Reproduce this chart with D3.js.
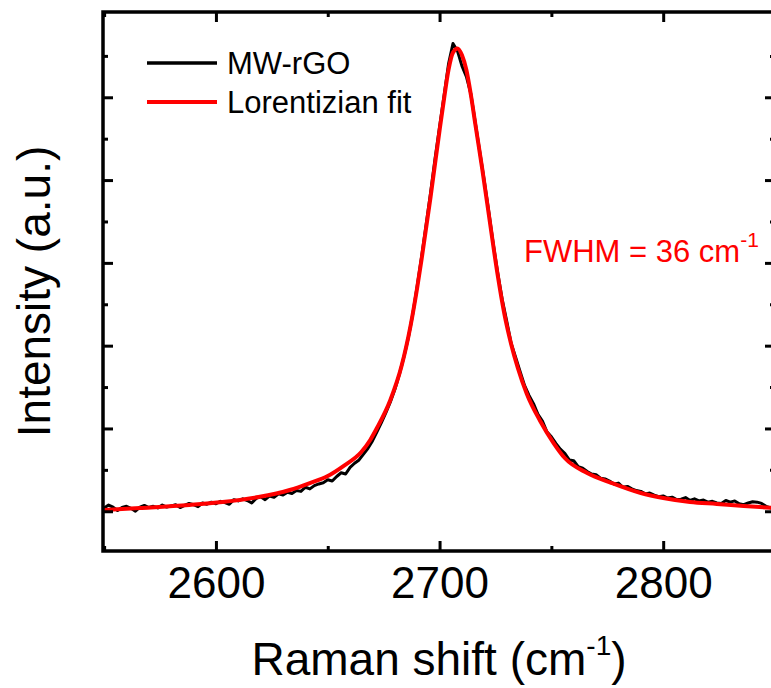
<!DOCTYPE html>
<html>
<head>
<meta charset="utf-8">
<script src="https://cdn.jsdelivr.net/npm/d3@7/dist/d3.min.js"></script>
<style>
  html, body { margin: 0; padding: 0; background: #fff; }
  svg { display: block; }
  text { font-family: "Liberation Sans", Arial, sans-serif; }
</style>
</head>
<body>
<svg id="chart" width="771" height="688"></svg>
<script>
// ---- data ----
const shiftMW = [2550,2552,2554,2556,2558,2560,2562,2564,2566,2568,2570,2572,2574,2576,2578,2580,2582,2584,2586,2588,2590,2592,2594,2596,2598,2600,2602,2604,2606,2608,2610,2612,2614,2616,2618,2620,2622,2624,2626,2628,2630,2632,2634,2636,2638,2640,2642,2644,2646,2648,2650,2652,2654,2656,2658,2660,2662,2664,2666,2668,2670,2672,2674,2676,2678,2680,2682,2684,2686,2688,2690,2692,2694,2696,2698,2700,2702,2704,2706,2708,2710,2712,2714,2716,2718,2720,2722,2724,2726,2728,2730,2732,2734,2736,2738,2740,2742,2744,2746,2748,2750,2752,2754,2756,2758,2760,2762,2764,2766,2768,2770,2772,2774,2776,2778,2780,2782,2784,2786,2788,2790,2792,2794,2796,2798,2800,2802,2804,2806,2808,2810,2812,2814,2816,2818,2820,2822,2824,2826,2828,2830,2832,2834,2836,2838,2840,2842,2844,2846,2848,2850];
const intensityMW = [1040,1075,1050,1010,1045,1060,1035,1000,1050,1070,1045,1060,1040,1075,1050,1065,1080,1045,1070,1095,1080,1055,1100,1085,1110,1090,1120,1105,1085,1140,1125,1150,1130,1100,1155,1175,1140,1185,1170,1210,1195,1230,1215,1250,1240,1290,1270,1310,1330,1345,1380,1365,1420,1465,1450,1530,1580,1620,1690,1760,1850,1960,2070,2190,2320,2470,2650,2860,3090,3380,3720,4080,4460,4850,5260,5640,6020,6400,6650,6560,6380,6250,6040,5690,5340,4990,4620,4230,3880,3560,3300,3030,2860,2690,2520,2400,2300,2170,2090,1960,1900,1820,1750,1700,1620,1610,1540,1520,1480,1450,1440,1400,1390,1365,1330,1340,1290,1300,1270,1250,1240,1210,1220,1195,1175,1185,1160,1170,1140,1145,1165,1130,1150,1125,1135,1110,1120,1100,1095,1130,1110,1125,1090,1080,1100,1115,1110,1095,1060,1040,1030];

const shiftFit = [2550,2566,2588,2603,2619,2633,2642,2650,2657,2665,2669,2672,2678,2683,2687,2690,2692,2696,2700,2702,2704,2706,2708,2710,2712,2714,2716,2719,2723,2726,2729,2732,2735,2739,2745,2751,2756,2766,2777,2790,2800,2812,2824,2836,2850];
const intensityFit = [1015,1039,1076,1112,1172,1257,1341,1426,1546,1715,1861,2005,2344,2754,3237,3700,4050,4800,5600,5980,6330,6540,6590,6510,6330,6030,5675,5150,4400,3850,3380,3020,2730,2420,2090,1824,1643,1462,1341,1220,1160,1112,1088,1063,1039];

const xMajorTicks = [2600, 2700, 2800];
const xMinorTicks = [2550, 2650, 2750, 2850];
const yMajorTicks = [1000, 2000, 3000, 4000, 5000, 6000];
const yMinorTicks = [1500, 2500, 3500, 4500, 5500, 6500];
const legendLabels = ["MW-rGO", "Lorentizian fit"];
const seriesColors = ["#000000", "#ff0000"];

// ---- layout ----
const svg = d3.select("#chart");
const L = 103, R = 775, T = 12, B = 551;

const x = d3.scaleLinear().domain([2549.5, 2850]).range([L, R]);
const y = d3.scaleLinear().domain([520, 7030]).range([B, T]);

svg.append("rect").attr("width", 771).attr("height", 688).attr("fill", "#fff");

svg.append("defs").append("clipPath").attr("id", "clip")
  .append("rect").attr("x", L).attr("y", T).attr("width", R - L).attr("height", B - T);

const plot = svg.append("g").attr("clip-path", "url(#clip)");

const line = d3.line().x(d => x(d[0])).y(d => y(d[1]));
const mw = shiftMW.map((s, i) => [s, intensityMW[i]]);
const fit = shiftFit.map((s, i) => [s, intensityFit[i]]);

plot.append("path").datum(mw)
  .attr("d", line.curve(d3.curveLinear))
  .attr("fill", "none").attr("stroke", seriesColors[0])
  .attr("stroke-width", 3).attr("stroke-linejoin", "round");

plot.append("path").datum(fit)
  .attr("d", d3.line().x(d => x(d[0])).y(d => y(d[1])).curve(d3.curveMonotoneX))
  .attr("fill", "none").attr("stroke", seriesColors[1])
  .attr("stroke-width", 4).attr("stroke-linejoin", "round");

// ---- axes ----
function styleAxis(g) {
  g.select(".domain").remove();
  g.selectAll(".tick line").attr("stroke", "#000").attr("stroke-width", 3);
}

// bottom
svg.append("g").attr("transform", `translate(0,${B})`)
  .call(d3.axisBottom(x).tickValues(xMajorTicks).tickSize(-10).tickPadding(16).tickFormat(d3.format("d")))
  .call(styleAxis)
  .call(g => g.selectAll("text").attr("font-size", 44).attr("fill", "#000")
    .attr("font-family", "Liberation Sans, Arial, sans-serif"));
svg.append("g").attr("transform", `translate(0,${B})`)
  .call(d3.axisBottom(x).tickValues(xMinorTicks).tickSize(-5).tickFormat(""))
  .call(styleAxis);
// top
svg.append("g").attr("transform", `translate(0,${T})`)
  .call(d3.axisTop(x).tickValues(xMajorTicks).tickSize(-10).tickFormat(""))
  .call(styleAxis);
svg.append("g").attr("transform", `translate(0,${T})`)
  .call(d3.axisTop(x).tickValues(xMinorTicks).tickSize(-5).tickFormat(""))
  .call(styleAxis);
// left
svg.append("g").attr("transform", `translate(${L},0)`)
  .call(d3.axisLeft(y).tickValues(yMajorTicks).tickSize(-10).tickFormat(""))
  .call(styleAxis);
svg.append("g").attr("transform", `translate(${L},0)`)
  .call(d3.axisLeft(y).tickValues(yMinorTicks).tickSize(-5).tickFormat(""))
  .call(styleAxis);
// right
svg.append("g").attr("transform", `translate(${R},0)`)
  .call(d3.axisRight(y).tickValues(yMajorTicks).tickSize(-10).tickFormat(""))
  .call(styleAxis);
svg.append("g").attr("transform", `translate(${R},0)`)
  .call(d3.axisRight(y).tickValues(yMinorTicks).tickSize(-5).tickFormat(""))
  .call(styleAxis);

// frame
svg.append("rect").attr("x", L).attr("y", T).attr("width", R - L).attr("height", B - T)
  .attr("fill", "none").attr("stroke", "#000").attr("stroke-width", 3.5);

// ---- axis titles ----
const xt = svg.append("text").attr("x", (L + R) / 2).attr("y", 675)
  .attr("text-anchor", "middle").attr("font-size", 46).attr("fill", "#000");
xt.append("tspan").text("Raman shift (cm");
xt.append("tspan").attr("font-size", 28).attr("dy", -20).text("-1");
xt.append("tspan").attr("dy", 20).text(")");

svg.append("text")
  .attr("transform", `translate(50,${(T + B) / 2 + 10}) rotate(-90)`)
  .attr("text-anchor", "middle").attr("font-size", 46).attr("fill", "#000")
  .text("Intensity (a.u.)");

// ---- legend ----
const legY = [63, 102];
legendLabels.forEach((lab, i) => {
  svg.append("line").attr("x1", 147).attr("x2", 217).attr("y1", legY[i]).attr("y2", legY[i])
    .attr("stroke", seriesColors[i]).attr("stroke-width", i === 0 ? 3.5 : 4);
  svg.append("text").attr("x", 227).attr("y", legY[i] + 11)
    .attr("font-size", 31).attr("fill", "#000").text(lab);
});

// ---- annotation ----
const ann = svg.append("text").attr("x", 524).attr("y", 262)
  .attr("font-size", 31).attr("fill", "#ff0000");
ann.append("tspan").text("FWHM = 36 cm");
ann.append("tspan").attr("font-size", 21).attr("dy", -15).text("-1");
</script>
</body>
</html>
